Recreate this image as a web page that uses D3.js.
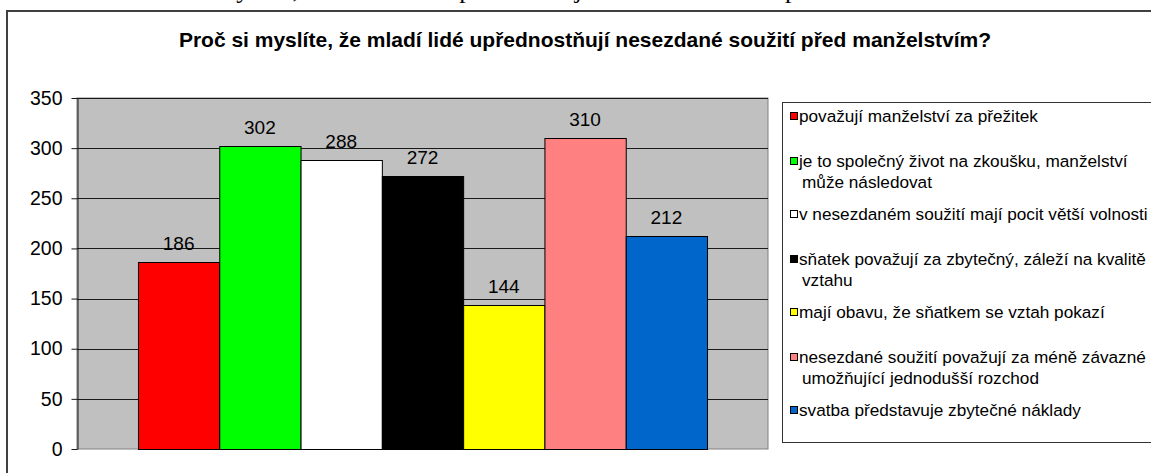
<!DOCTYPE html>
<html>
<head>
<meta charset="utf-8">
<script src="https://cdn.jsdelivr.net/npm/d3@7"></script>
<style>
body { margin: 0; background: #fff; }
svg { display: block; font-family: Arial, "Liberation Sans", sans-serif; }
</style>
</head>
<body>
<div id="chart"></div>
<script>
// data
var categories = [
  "považují manželství za přežitek",
  "je to společný život na zkoušku, manželství\nmůže následovat",
  "v nesezdaném soužití mají pocit větší volnosti",
  "sňatek považují za zbytečný, záleží na kvalitě\nvztahu",
  "mají obavu, že sňatkem se vztah pokazí",
  "nesezdané soužití považují za méně závazné\numožňující jednodušší rozchod",
  "svatba představuje zbytečné náklady"
];
var values = [186, 302, 288, 272, 144, 310, 212];
var colors = ["#FF0000", "#00FF00", "#FFFFFF", "#000000", "#FFFF00", "#FF8080", "#0066CC"];
var yTicks = [0, 50, 100, 150, 200, 250, 300, 350];
var title = "Proč si myslíte, že mladí lidé upřednostňují nesezdané soužití před manželstvím?";

var width = 1151, height = 473;
var plot = {left: 77, top: 98, right: 768, bottom: 449};

var svg = d3.select("#chart")
    .append("svg")
    .attr("width", width)
    .attr("height", height);

// line of document text cut off above the chart (only descenders show)
svg.append("text")
    .attr("x", 138)
    .attr("y", -2)
    .style("font-family", "'Times New Roman', 'Liberation Serif', serif")
    .style("font-size", "26px")
    .text(title);

// chart frame
svg.append("rect")
    .attr("x", 7).attr("y", 11)
    .attr("width", 1200).attr("height", 500)
    .attr("fill", "#fff")
    .attr("stroke", "#404040")
    .attr("stroke-width", 2);

svg.append("text")
    .attr("x", 585)
    .attr("y", 47)
    .attr("text-anchor", "middle")
    .style("font-weight", "bold")
    .style("font-size", "21px")
    .text(title);

var y = d3.scaleLinear()
    .domain([0, 350])
    .range([plot.bottom, plot.top]);

var x = d3.scaleBand()
    .domain(categories)
    .range([plot.left, plot.right])
    .paddingInner(0)
    .paddingOuter(0.75);

// plot area
svg.append("rect")
    .attr("x", plot.left).attr("y", plot.top)
    .attr("width", plot.right - plot.left)
    .attr("height", plot.bottom - plot.top)
    .attr("fill", "#C0C0C0")
    .attr("stroke", "#808080");

svg.append("g")
    .selectAll("line")
    .data(yTicks.filter(d => d > 0))
    .enter()
    .append("line")
        .attr("x1", plot.left).attr("x2", plot.right)
        .attr("y1", d => Math.round(y(d)) + 0.5)
        .attr("y2", d => Math.round(y(d)) + 0.5)
        .attr("stroke", "#1a1a1a");

svg.append("g")
    .selectAll("rect")
    .data(values)
    .enter()
    .append("rect")
        .attr("x", (d, i) => x(categories[i]) + 0.5)
        .attr("y", d => Math.round(y(d)) + 0.5)
        .attr("width", x.bandwidth())
        .attr("height", d => plot.bottom - Math.round(y(d)))
        .attr("fill", (d, i) => colors[i])
        .attr("stroke", "#000");

svg.append("g")
    .selectAll("text")
    .data(values)
    .enter()
    .append("text")
        .attr("x", (d, i) => x(categories[i]) + x.bandwidth() / 2)
        .attr("y", d => y(d) - 12)
        .attr("text-anchor", "middle")
        .style("font-size", "19px")
        .text(d => d);

var axis = svg.append("g")
    .attr("transform", "translate(" + (plot.left + 0.5) + ",0)")
    .call(d3.axisLeft(y).tickValues(yTicks).tickSize(6).tickSizeOuter(0).tickPadding(9));
axis.selectAll("text")
    .style("font-size", "19.5px")
    .style("font-family", "Arial, 'Liberation Sans', sans-serif")
    .attr("fill", "#000");
axis.selectAll("line").attr("stroke", "#1a1a1a");
axis.select(".domain").attr("stroke", "#1a1a1a");

// legend
svg.append("rect")
    .attr("x", 782.5).attr("y", 102.5)
    .attr("width", 400).attr("height", 340)
    .attr("fill", "#fff")
    .attr("stroke", "#333");

var rowY = d3.scalePoint()
    .domain(categories)
    .range([116, 410]);

var item = svg.append("g")
    .selectAll("g")
    .data(categories)
    .enter()
    .append("g")
        .attr("transform", d => "translate(0," + (rowY(d) - (d.indexOf("\n") > -1 ? 4 : 0)) + ")");

item.append("rect")
    .attr("x", 790.5).attr("y", -3.5)
    .attr("width", 7).attr("height", 7)
    .attr("fill", (d, i) => colors[i])
    .attr("stroke", "#000");

item.append("text")
    .style("font-size", "17.2px")
    .selectAll("tspan")
    .data(d => d.split("\n"))
    .enter()
    .append("tspan")
        .attr("x", (d, i) => i == 0 ? 799 : 802)
        .attr("y", (d, i) => 6 + i * 21)
        .text(d => d);
</script>
</body>
</html>
